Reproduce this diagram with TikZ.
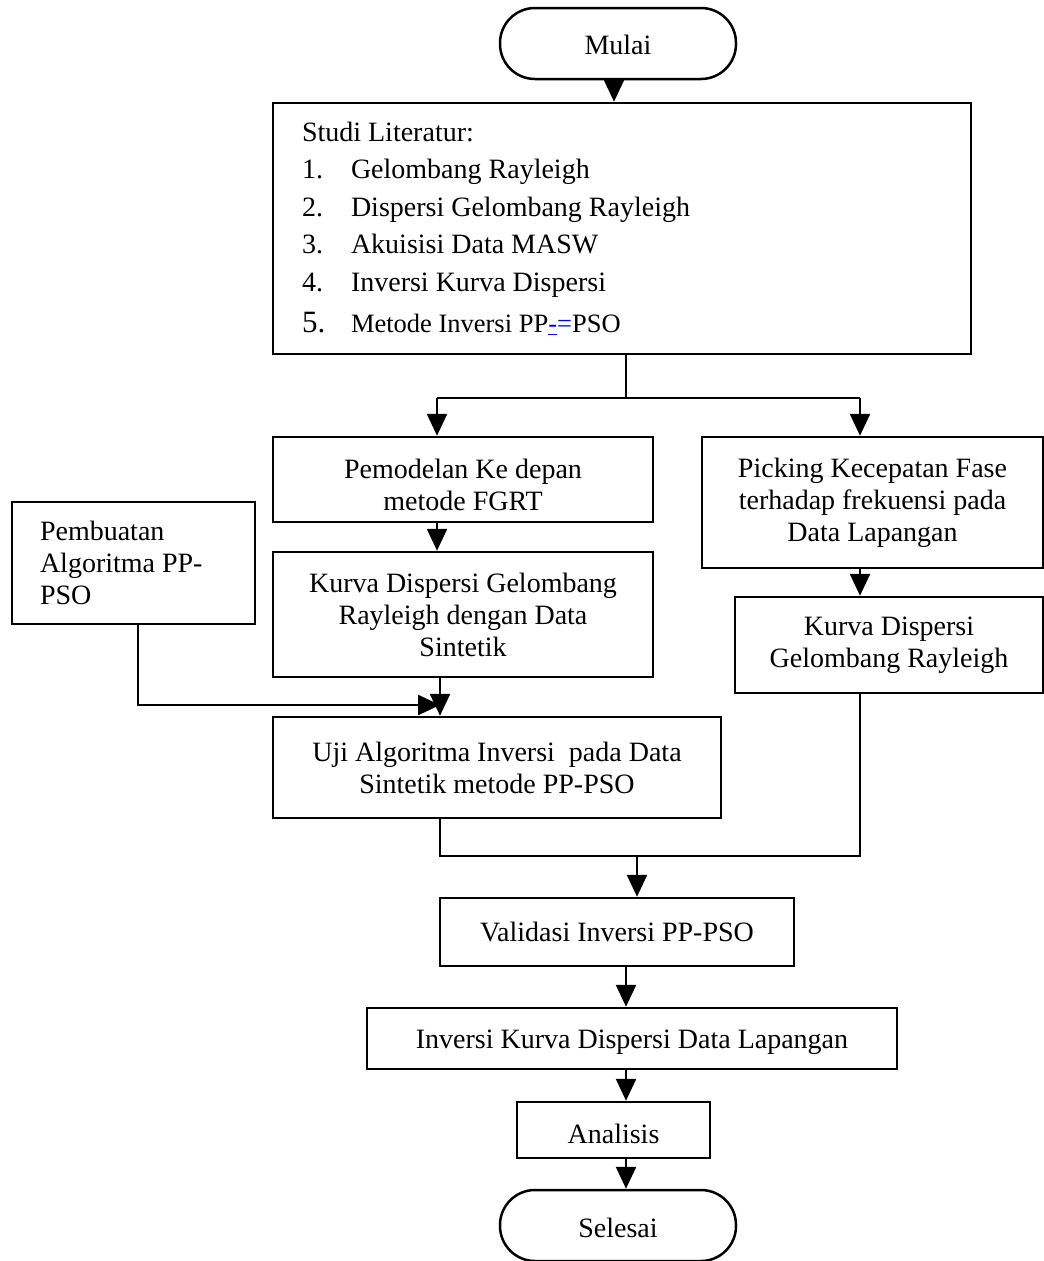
\documentclass[tikz,border=0pt]{standalone}
\usepackage{fontspec}
\setmainfont{Liberation Serif}
\usetikzlibrary{arrows.meta}
\newcommand{\lowr}[2]{\raisebox{-#1}[\height][\depth]{#2}}
\begin{document}
\begin{tikzpicture}[x=1pt,y=-1pt,
  box/.style={draw, line width=2.5pt, inner sep=0pt, align=center, font=\fontsize{28}{32}\selectfont},
  term/.style={box, rounded corners=35pt},
  conn/.style={line width=2.5pt},
  arr/.style={conn, -{Triangle[width=20pt,length=22pt]}}]
\useasboundingbox (0,0) rectangle (1044,1261);

\node[term, minimum width=236pt, minimum height=71pt] (mulai) at (618,43.5) {\lowr{1pt}{Mulai}};

\node[box, minimum width=698pt, minimum height=251pt, text width=640pt, align=flush left,
      font=\fontsize{28}{37.5}\selectfont] (studi) at (622,228.5)
 {Studi Literatur:\\
  \makebox[49pt][l]{1.}Gelombang Rayleigh\\
  \makebox[49pt][l]{2.}Dispersi Gelombang Rayleigh\\
  \makebox[49pt][l]{3.}Akuisisi Data MASW\\
  \makebox[49pt][l]{4.}Inversi Kurva Dispersi\\[4pt]
  {\fontsize{31}{37.5}\selectfont\makebox[49pt][l]{5.}}{\fontsize{26.5}{37.5}\selectfont Metode Inversi PP{\color{blue}\underline{-}=}PSO}};

\node[box, minimum width=380pt, minimum height=85pt] (model) at (463,479.5) {\lowr{9pt}{\begin{tabular}{@{}c@{}}Pemodelan Ke depan\\metode FGRT\end{tabular}}};
\node[box, minimum width=380pt, minimum height=125pt] (sint) at (463,614.5) {Kurva Dispersi Gelombang\\Rayleigh dengan Data\\Sintetik};
\node[box, minimum width=243pt, minimum height=122pt, text width=187pt, align=flush left] (algo) at (133.5,563) {Pembuatan\\Algoritma PP-\\PSO};
\node[box, minimum width=448pt, minimum height=101pt] (uji) at (497,767.5) {Uji Algoritma Inversi\ \ pada Data\\Sintetik metode PP-PSO};
\node[box, minimum width=341pt, minimum height=131pt] (pick) at (872.5,502.5) {Picking Kecepatan Fase\\terhadap frekuensi pada\\Data Lapangan};
\node[box, minimum width=308pt, minimum height=96pt] (kgr) at (889,645) {Kurva Dispersi\\Gelombang Rayleigh};
\node[box, minimum width=354pt, minimum height=68pt] (valid) at (617,932) {Validasi Inversi PP-PSO};
\node[box, minimum width=530pt, minimum height=61pt] (inv) at (632,1038.5) {\lowr{4pt}{Inversi Kurva Dispersi Data Lapangan}};
\node[box, minimum width=193pt, minimum height=56pt] (anal) at (613.5,1130) {\lowr{4pt}{Analisis}};
\node[term, minimum width=236pt, minimum height=71pt] (selesai) at (618,1225.5) {\lowr{2pt}{Selesai}};

% connectors
\coordinate (c0) at (614,0);
\draw[arr] (mulai.south -| c0) -- (studi.north -| c0);

\coordinate (s1) at (626,398);
\coordinate (sL) at (437,398);
\coordinate (sR) at (860,398);
\draw[conn] (studi.south -| s1) -- (s1);
\draw[conn] (sL) -- (sR);
\draw[arr] (sL) -- (model.north -| sL);
\draw[arr] (sR) -- (pick.north -| sR);

\coordinate (c1) at (437,0);
\draw[arr] (model.south -| c1) -- (sint.north -| c1);

\coordinate (c2) at (440,0);
\draw[arr] (sint.south -| c2) -- (uji.north -| c2);

\coordinate (a1) at (138,705);
\coordinate (a2) at (440,705);
\draw[arr] (algo.south -| a1) -- (a1) -- (a2);

\draw[arr] (pick.south -| sR) -- (kgr.north -| sR);

\coordinate (m1) at (440,856);
\coordinate (m2) at (860,856);
\coordinate (m3) at (637,856);
\draw[conn] (uji.south -| m1) -- (m1) -- (m2) -- (kgr.south -| m2);
\draw[arr] (m3) -- (valid.north -| m3);

\coordinate (c3) at (626,0);
\draw[arr] (valid.south -| c3) -- (inv.north -| c3);
\draw[arr] (inv.south -| c3) -- (anal.north -| c3);
\draw[arr] (anal.south -| c3) -- (selesai.north -| c3);
\end{tikzpicture}
\end{document}
